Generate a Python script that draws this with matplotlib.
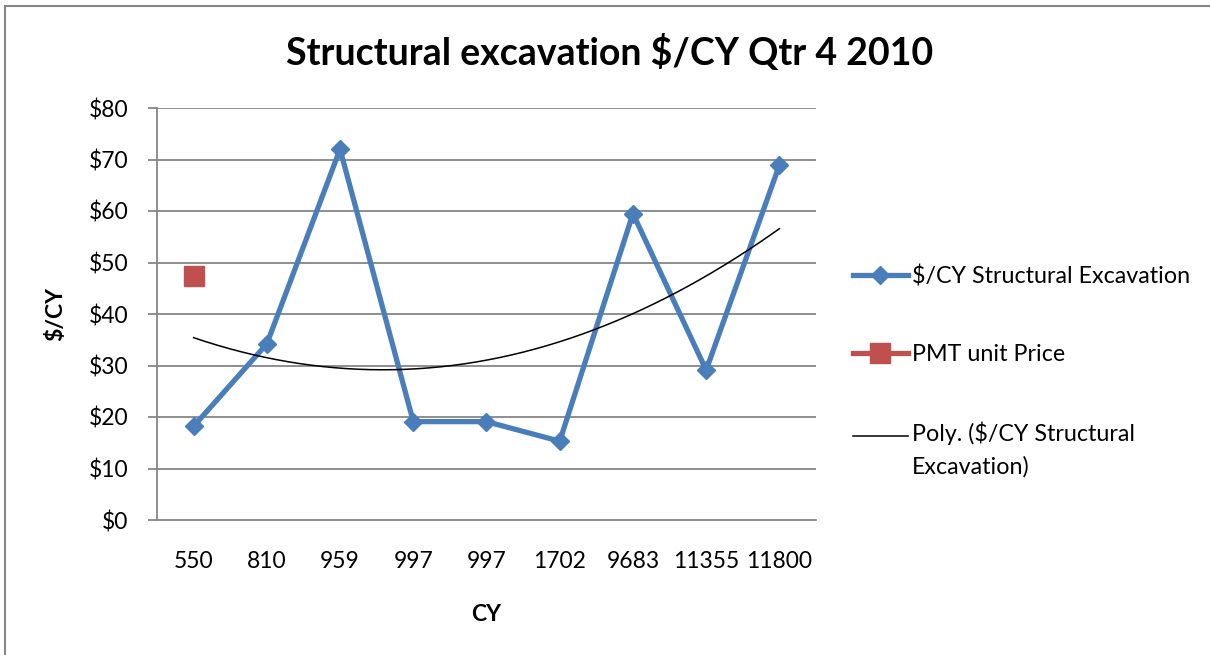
import numpy as np
import matplotlib
matplotlib.use("Agg")
import matplotlib.pyplot as plt
from matplotlib.lines import Line2D
from matplotlib.legend_handler import HandlerLine2D

plt.rcParams['font.family'] = ['Lato', 'DejaVu Sans']

categories = ["550", "810", "959", "997", "997", "1702", "9683", "11355", "11800"]
cost_per_cy = [18.2, 34.2, 72.0, 19.1, 19.1, 15.3, 59.5, 29.1, 68.9]
pmt_unit_price = [47.4]
y_ticks = [0, 10, 20, 30, 40, 50, 60, 70, 80]
y_tick_labels = ["$0", "$10", "$20", "$30", "$40", "$50", "$60", "$70", "$80"]

W, H = 1210, 655
fig = plt.figure(figsize=(W / 100, H / 100), dpi=100)
ax = fig.add_axes([157 / W, 1 - 520 / H, (816 - 157) / W, (520 - 108) / H])

x = np.arange(1, len(categories) + 1)
blue = "#4A7EBB"
red = "#C0504D"
grid = "#868686"

ax.plot(x, cost_per_cy, color=blue, lw=3.8, marker="D", ms=9.5,
        label="$/CY Structural Excavation", zorder=3)
ax.plot(x[:len(pmt_unit_price)], pmt_unit_price, color=red, lw=3.8, marker="s",
        ms=14, label="PMT unit Price", zorder=3)

coef = np.polyfit(x, cost_per_cy, 2)
xs = np.linspace(x[0], x[-1], 200)
trend, = ax.plot(xs, np.polyval(coef, xs), color="black", lw=1.1,
                 label="Poly. ($/CY Structural\nExcavation)", zorder=4)

ax.set_xlim(0.5, len(categories) + 0.5)
ax.set_ylim(0, 80)
ax.set_yticks(y_ticks)
ax.set_yticklabels(y_tick_labels)
ax.set_xticks(x)
ax.set_xticklabels(categories)
for v in y_ticks[1:]:
    ax.axhline(v, color=grid, lw=1.3, zorder=1)

for s in ["top", "right"]:
    ax.spines[s].set_visible(False)
for s in ["left", "bottom"]:
    ax.spines[s].set_color(grid)
    ax.spines[s].set_linewidth(1.3)
ax.tick_params(axis="y", length=6.5, width=1.3, color=grid, pad=14, labelsize=16.5)
ax.tick_params(axis="x", length=0, pad=22, labelsize=16.5)

ax.set_ylabel("$/CY", fontsize=16.5, fontweight="bold")
ax.yaxis.set_label_coords((66 - 157) / 659, 0.5)
ax.set_xlabel("CY", fontsize=16.5, fontweight="bold")
ax.xaxis.set_label_coords(0.5, (520 - 604) / 412)

fig.text(610 / W, 1 - 53 / H, "Structural excavation $/CY Qtr 4 2010",
         ha="center", va="center", fontsize=27, fontweight="bold")


class TopAlignedLine(HandlerLine2D):
    def create_artists(self, legend, orig_handle, xdescent, ydescent, width,
                       height, fontsize, trans):
        arts = super().create_artists(legend, orig_handle, xdescent, ydescent,
                                      width, height, fontsize, trans)
        for a in arts:
            a.set_ydata(np.asarray(a.get_ydata()) + 0.62 * fontsize)
        return arts


leg = fig.legend(loc="upper left", bbox_to_anchor=(853 / W, 1 - 265 / H),
                 frameon=False, fontsize=16.75, borderpad=0, borderaxespad=0,
                 handlelength=2.36, handletextpad=0.18, labelspacing=2.45,
                 numpoints=1, handler_map={trend: TopAlignedLine()})
for t in leg.get_texts():
    t.set_linespacing(1.62)

# chart border (left and top edges visible)
fig.add_artist(Line2D([4.5 / W, 4.5 / W], [0, 1 - 5.5 / H], color=grid, lw=1.5,
                      transform=fig.transFigure))
fig.add_artist(Line2D([4.5 / W, 1], [1 - 5.5 / H, 1 - 5.5 / H], color=grid, lw=1.5,
                      transform=fig.transFigure))

fig.savefig("out.png", dpi=100)
